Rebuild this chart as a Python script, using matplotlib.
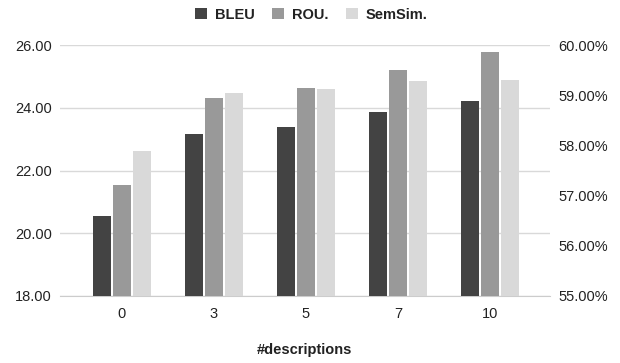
import numpy as np
import matplotlib
matplotlib.use("Agg")
import matplotlib.pyplot as plt
from matplotlib.ticker import FuncFormatter

plt.rcParams['font.family'] = ['Liberation Sans', 'DejaVu Sans']

# data
descriptions = ["0", "3", "5", "7", "10"]
bleu = [20.56, 23.15, 23.39, 23.87, 24.23]
rouge = [21.53, 24.30, 24.63, 25.21, 25.78]
semsim = [57.89, 59.04, 59.12, 59.28, 59.30]  # percent, right axis

c_bleu = '#434343'
c_rou = '#999999'
c_sem = '#d9d9d9'
txt = '#222222'
fs = 10.5

fig = plt.figure(figsize=(6.2, 3.63), dpi=100)
ax = fig.add_axes([0.0968, 0.1846, 0.79, 0.6914])
ax2 = ax.twinx()

x = np.arange(len(descriptions))
step = 0.217
w = 0.197

ax.bar(x - step, bleu, w, color=c_bleu, label='BLEU', zorder=3)
ax.bar(x, rouge, w, color=c_rou, label='ROU.', zorder=3)
ax2.bar(x + step, semsim, w, color=c_sem, label='SemSim.', zorder=3)

ax.set_xlim(-0.674, 4.652)
ax.set_ylim(18, 26)
ax.set_yticks([18, 20, 22, 24, 26])
ax.yaxis.set_major_formatter(FuncFormatter(lambda v, p: f"{v:.2f}"))
ax2.set_ylim(55, 60)
ax2.set_yticks([55, 56, 57, 58, 59, 60])
ax2.yaxis.set_major_formatter(FuncFormatter(lambda v, p: f"{v:.2f}%"))

ax.grid(axis='y', color='#d9d9d9', linewidth=1, zorder=0)
ax.set_axisbelow(True)

for a in (ax, ax2):
    for s in ('top', 'left', 'right'):
        a.spines[s].set_visible(False)
    a.spines['bottom'].set_color('#cccccc')
    a.tick_params(length=0, labelsize=fs, colors=txt)
ax2.spines['bottom'].set_visible(False)

ax.set_xticks(x)
ax.set_xticklabels(descriptions)
ax.tick_params(axis='x', pad=8)
ax.tick_params(axis='y', pad=6)
ax2.tick_params(axis='y', pad=6)

ax.set_xlabel('#descriptions', fontsize=fs, fontweight='bold', color=txt, labelpad=16)

h1, l1 = ax.get_legend_handles_labels()
h2, l2 = ax2.get_legend_handles_labels()
fig.legend(h1 + h2, l1 + l2, loc='center', bbox_to_anchor=(0.502, 0.959), ncol=3,
           frameon=False, prop={'weight': 'bold', 'size': fs},
           handlelength=0.82, handleheight=0.82, handletextpad=0.55, columnspacing=1.2,
           labelcolor=txt)

fig.savefig('out.png', dpi=100)
